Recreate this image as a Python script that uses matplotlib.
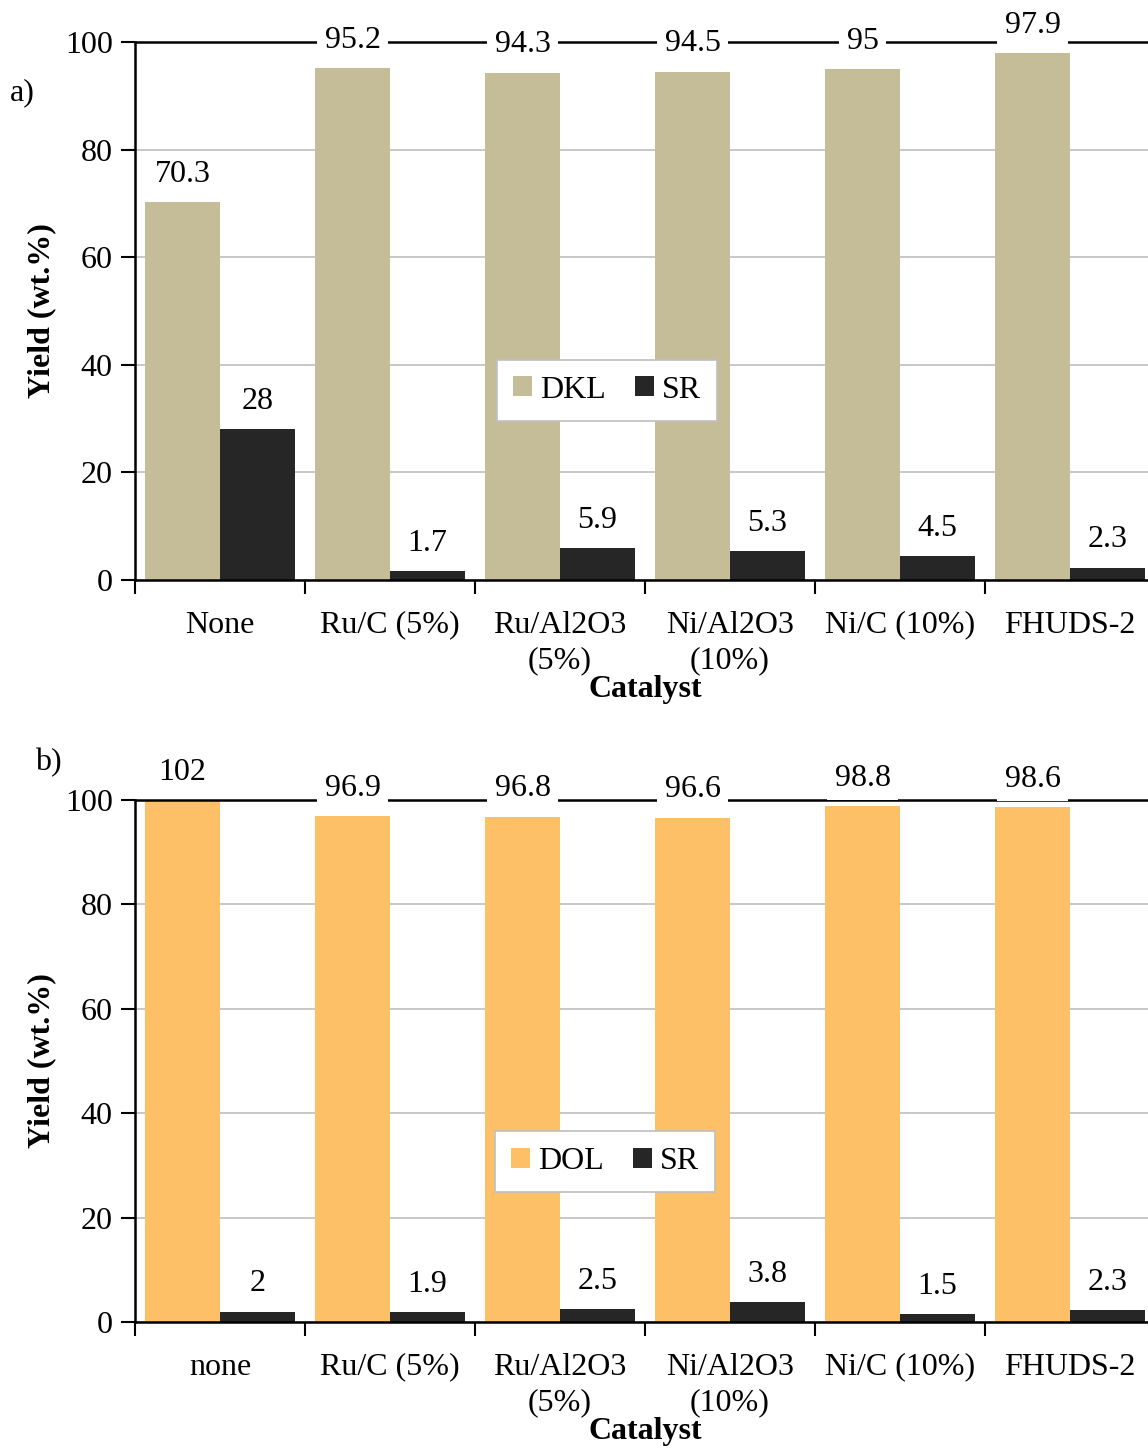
import matplotlib.pyplot as plt
import numpy as np

plt.rcParams['font.family'] = ['Liberation Serif', 'DejaVu Serif']
plt.rcParams['font.size'] = 23

cats_a = ['None', 'Ru/C (5%)', 'Ru/Al2O3\n(5%)', 'Ni/Al2O3\n(10%)', 'Ni/C (10%)', 'FHUDS-2']
cats_b = ['none', 'Ru/C (5%)', 'Ru/Al2O3\n(5%)', 'Ni/Al2O3\n(10%)', 'Ni/C (10%)', 'FHUDS-2']
dkl = [70.3, 95.2, 94.3, 94.5, 95, 97.9]
sr_a = [28, 1.7, 5.9, 5.3, 4.5, 2.3]
dol = [102, 96.9, 96.8, 96.6, 98.8, 98.6]
sr_b = [2, 1.9, 2.5, 3.8, 1.5, 2.3]

W, H = 1148, 1453
fig = plt.figure(figsize=(W / 100, H / 100), dpi=100)


def panel(rect, cats, main, sr, main_name, main_color, leg_pos, tag, tag_xy):
    ax = fig.add_axes(rect)
    x = np.arange(len(cats))
    bw = 0.441
    b1 = ax.bar(x + 0.059, main, bw, align='edge', color=main_color, label=main_name, zorder=2)
    b2 = ax.bar(x + 0.5, sr, bw, align='edge', color='#262626', label='SR', zorder=2)
    for bars, vals in ((b1, main), (b2, sr)):
        for b, v in zip(bars, vals):
            ax.annotate(f'{v:g}', (b.get_x() + b.get_width() / 2, min(v, 100)),
                        xytext=(0, 20), textcoords='offset points', ha='center', va='center',
                        bbox=dict(facecolor='white', edgecolor='none', pad=5),
                        zorder=5, annotation_clip=False)
    ax.set_ylim(0, 100)
    ax.set_xlim(0, len(cats))
    ax.set_yticks([0, 20, 40, 60, 80, 100])
    ax.set_xticks(np.arange(len(cats) + 1))
    ax.set_xticklabels([])
    ax.set_xticks(x + 0.5, minor=True)
    ax.set_xticklabels(cats, minor=True, linespacing=1.3)
    ax.tick_params(axis='x', which='minor', length=0, pad=22)
    ax.tick_params(axis='x', which='major', length=10, width=1.5, direction='out')
    ax.tick_params(axis='y', length=10, width=1.5, direction='out', pad=6)
    ax.yaxis.grid(True, color='#BFBFBF', linewidth=1.2, zorder=0)
    ax.set_axisbelow(True)
    ax.spines['right'].set_visible(False)
    ax.spines['top'].set_linewidth(1.8)
    ax.spines['left'].set_linewidth(1.8)
    ax.spines['bottom'].set_linewidth(1.8)
    ax.set_xlabel('Catalyst', fontweight='bold', labelpad=0)
    ax.set_ylabel('Yield (wt.%)', fontweight='bold', labelpad=6)
    leg = ax.legend(loc='center', bbox_to_anchor=leg_pos, ncol=2, frameon=True, fancybox=False,
                    edgecolor='#BFBFBF', handlelength=0.6, handleheight=0.6, handletextpad=0.25,
                    columnspacing=0.9, borderpad=0.5, framealpha=1)
    leg.get_frame().set_linewidth(1.2)
    fig.text(tag_xy[0] / W, 1 - tag_xy[1] / H, tag, ha='left', va='center')
    return ax


panel([135 / W, 1 - 580 / H, 1020 / W, 538 / H], cats_a, dkl, sr_a, 'DKL', '#C4BD97',
      (0.463, 0.353), 'a)', (10, 93))
panel([135 / W, 1 - 1322 / H, 1020 / W, 522 / H], cats_b, dol, sr_b, 'DOL', '#FDC066',
      (0.461, 0.307), 'b)', (35, 763))

fig.savefig('out.png', dpi=100)
